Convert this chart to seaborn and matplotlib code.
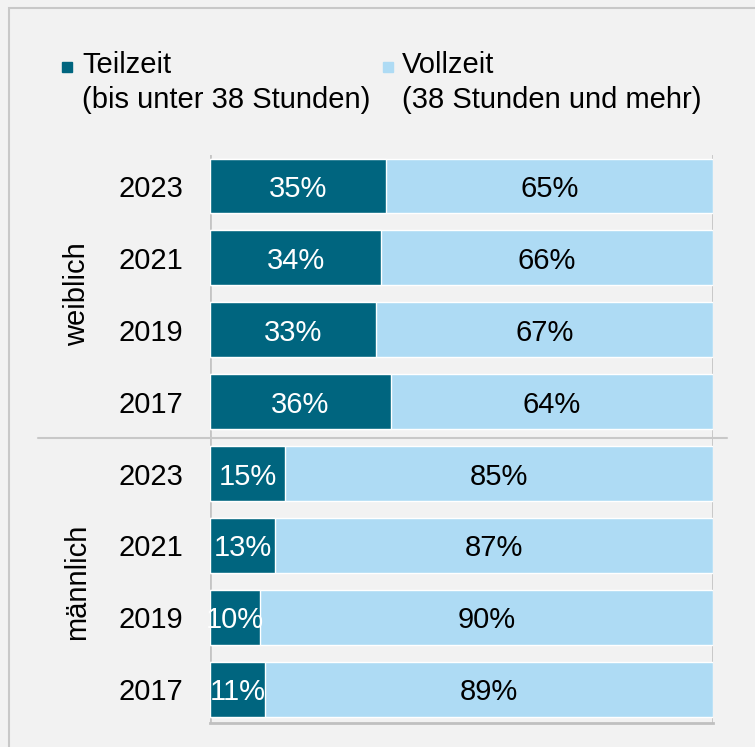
import pandas as pd
import seaborn as sns
import matplotlib.pyplot as plt
from matplotlib.patches import Rectangle

# ------------------------------------------------------------
# DONNEES
# ------------------------------------------------------------
groupes = ["weiblich", "weiblich", "weiblich", "weiblich",
           "männlich", "männlich", "männlich", "männlich"]
jahre = ["2023", "2021", "2019", "2017", "2023", "2021", "2019", "2017"]
teilzeit = [35, 34, 33, 36, 15, 13, 10, 11]
vollzeit = [65, 66, 67, 64, 85, 87, 90, 89]
legende = ["Teilzeit\n(bis unter 38 Stunden)", "Vollzeit\n(38 Stunden und mehr)"]

col_teil = "#00657f"
col_voll = "#aedbf4"
bg = "#f2f2f2"
fs = 21

df = pd.DataFrame({"groupe": groupes, "jahr": jahre,
                   "teilzeit": teilzeit, "vollzeit": vollzeit})
df["ligne"] = df["groupe"] + " " + df["jahr"]
df["total"] = df["teilzeit"] + df["vollzeit"]

sns.set_style("white")
plt.rcParams["font.family"] = ["Liberation Sans", "DejaVu Sans"]
plt.rcParams["text.color"] = "black"
plt.rcParams["ytick.color"] = "black"

fig = plt.figure(figsize=(7.55, 7.47), dpi=100, facecolor=bg)
ax = fig.add_axes([210 / 755, 1 - 723 / 747, 503 / 755, 568 / 747])
ax.set_facecolor(bg)

# cadre
fig.patches.append(Rectangle((8.5 / 755, -0.1), 1.2, 1 - 7.5 / 747 + 0.1,
                             transform=fig.transFigure, fill=False,
                             edgecolor="#c8c8c8", lw=1.5, zorder=0))

# barres empilées (Vollzeit = total, Teilzeit par dessus)
sns.barplot(data=df, x="total", y="ligne", color=col_voll, width=0.76,
            saturation=1, edgecolor="white", linewidth=1, ax=ax, zorder=3)
sns.barplot(data=df, x="teilzeit", y="ligne", color=col_teil, width=0.76,
            saturation=1, edgecolor="white", linewidth=1, ax=ax, zorder=4)

for i, (t, v) in enumerate(zip(teilzeit, vollzeit)):
    ax.text(t / 2, i, f"{t}%", ha="center", va="center_baseline",
            color="white", fontsize=fs, zorder=5)
    ax.text(t + v / 2, i, f"{v}%", ha="center", va="center_baseline",
            color="black", fontsize=fs, zorder=5)

ax.set_xlim(0, 100)
ax.set_ylim(7.47, -0.43)
ax.axvline(0, color="#c4c4c4", lw=2, zorder=1)
ax.axvline(100, color="#c4c4c4", lw=2, zorder=1)
ax.set_xticks([])
ax.set_yticks(range(len(jahre)))
ax.set_yticklabels(jahre, fontsize=fs, va="center_baseline", color="black")
ax.tick_params(axis="y", length=0, pad=19)
ax.set_xlabel("")
ax.set_ylabel("")
for s in ["top", "right", "left"]:
    ax.spines[s].set_visible(False)
ax.spines["bottom"].set_color("#c0c0c0")
ax.spines["bottom"].set_linewidth(2)

# séparation des groupes
ax.plot([-34.2, 102.8], [3.5, 3.5], color="#c8c8c8", lw=1.5, clip_on=False)
ax.text(-26.5, 1.5, "weiblich", rotation=90, ha="center", va="center", fontsize=fs)
ax.text(-26.5, 5.5, "männlich", rotation=90, ha="center", va="center", fontsize=fs)

# légende
fig.patches.append(Rectangle((62 / 755, 1 - 72 / 747), 10 / 755, 10 / 747,
                             transform=fig.transFigure, color=col_teil))
fig.patches.append(Rectangle((383 / 755, 1 - 72 / 747), 10 / 755, 10 / 747,
                             transform=fig.transFigure, color=col_voll))
fig.text(82 / 755, 1 - 51 / 747, legende[0], fontsize=fs, va="top",
         linespacing=1.3)
fig.text(402 / 755, 1 - 51 / 747, legende[1], fontsize=fs, va="top",
         linespacing=1.3)

fig.savefig("out.png", dpi=100, facecolor=bg)
